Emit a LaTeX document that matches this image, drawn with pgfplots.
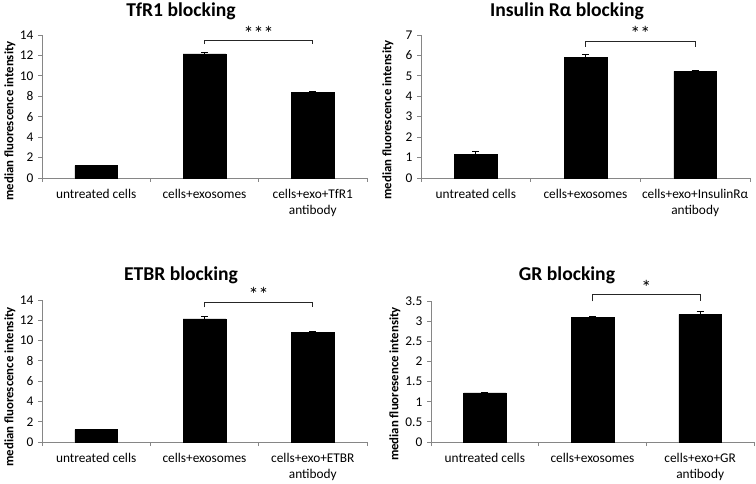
\documentclass[border=0pt]{standalone}
\usepackage{pgfplots}
\pgfplotsset{compat=1.18}
\usepackage{fontspec}
\setmainfont{Carlito}
\definecolor{axgray}{RGB}{134,134,134}
\pgfplotsset{
 panel/.style={
   scale only axis,
   axis lines*=left,
   axis line style={axgray, line width=0.6pt},
   xmin=-0.5, xmax=2.5, ymin=0,
   xtick={0,1,2},
   x tick style={axgray, line width=0.6pt},
   major x tick style={draw=none},
   minor xtick={-0.5,0.5,1.5,2.5},
   y tick style={axgray, line width=0.6pt},
   tick align=outside,
   major tick length=3pt, minor tick length=3pt,
   tick label style={font=\fontsize{10}{12}\selectfont, black},
   /pgf/number format/assume math mode=true,
   xticklabel style={align=center, yshift=-2pt},
   clip=false,
   anchor=south west,
 },
 barstyle/.style={ybar, bar width=32pt, fill=black, draw=black,
   error bars/.cd, y dir=plus, y explicit,
   error bar style={black, line width=0.6pt},
   error mark options={rotate=90, mark size=2.6pt, black, line width=0.6pt}},
 brk/.style={black!85, line width=0.6pt, no marks, forget plot},
}
\newcommand{\stars}[1]{\fontsize{15}{15}\selectfont #1}
\begin{document}
\begin{tikzpicture}
\useasboundingbox (0,0) rectangle (567pt,-363pt);
% Panel 1
\begin{axis}[panel, at={(31.5pt,-133.5pt)}, width=243.75pt, height=107.25pt,
  ymax=14, ytick={0,2,...,14},
  xticklabels={untreated cells, cells+exosomes, {cells+exo+TfR1\\antibody}}]
\addplot[barstyle] coordinates {(0,1.2) +- (0,0.07) (1,12.15) +- (0,0.15) (2,8.4) +- (0,0.08)};
\addplot[brk] coordinates {(1,13.1) (1,13.5) (2,13.5) (2,13.1)};
\node[yshift=-3pt] at (axis cs:1.5,14.55) {\stars{***}};
\end{axis}
% Panel 2
\begin{axis}[panel, at={(315.75pt,-133.5pt)}, width=246.75pt, height=107.25pt,
  ymax=7, ytick={0,1,...,7},
  xticklabels={untreated cells, cells+exosomes, {cells+exo+InsulinRα\\antibody}}]
\addplot[barstyle] coordinates {(0,1.17) +- (0,0.12) (1,5.91) +- (0,0.15) (2,5.22) +- (0,0.06)};
\addplot[brk] coordinates {(1,6.43) (1,6.68) (2,6.68) (2,6.43)};
\node[yshift=-3pt] at (axis cs:1.5,7.28) {\stars{**}};
\end{axis}
% Panel 3
\begin{axis}[panel, at={(31.5pt,-331.5pt)}, width=243.75pt, height=106.5pt,
  ymax=14, ytick={0,2,...,14},
  xticklabels={untreated cells, cells+exosomes, {cells+exo+ETBR\\antibody}}]
\addplot[barstyle] coordinates {(0,1.22) +- (0,0.06) (1,12.13) +- (0,0.22) (2,10.82) +- (0,0.05)};
\addplot[brk] coordinates {(1,13.28) (1,13.77) (2,13.77) (2,13.28)};
\node[yshift=-3pt] at (axis cs:1.5,14.9) {\stars{**}};
\end{axis}
% Panel 4
\begin{axis}[panel, at={(323.25pt,-331.5pt)}, width=242.25pt, height=105.75pt,
  ymax=3.5, ytick={0,0.5,...,3.5},
  xticklabels={untreated cells, cells+exosomes, {cells+exo+GR\\antibody}}]
\addplot[barstyle] coordinates {(0,1.22) +- (0,0.02) (1,3.09) +- (0,0.03) (2,3.17) +- (0,0.06)};
\addplot[brk] coordinates {(1,3.49) (1,3.66) (2,3.66) (2,3.49)};
\node[yshift=-3pt] at (axis cs:1.5,3.93) {\stars{*}};
\end{axis}
% Titles
\node[font=\fontsize{14.7}{16}\selectfont\bfseries] at (135.75pt,-8.25pt) {TfR1 blocking};
\node[font=\fontsize{14.7}{16}\selectfont\bfseries] at (425.25pt,-8.25pt) {Insulin Rα blocking};
\node[font=\fontsize{14.7}{16}\selectfont\bfseries] at (135.75pt,-206.25pt) {ETBR blocking};
\node[font=\fontsize{14.7}{16}\selectfont\bfseries] at (425.25pt,-206.25pt) {GR blocking};
% Y labels
\node[rotate=90, font=\fontsize{9.6}{11}\selectfont\bfseries] at (7.5pt,-90.75pt) {median fluorescence intensity};
\node[rotate=90, font=\fontsize{9.6}{11}\selectfont\bfseries] at (291pt,-90pt) {median fluorescence intensity};
\node[rotate=90, font=\fontsize{9.6}{11}\selectfont\bfseries] at (7.5pt,-290.25pt) {median fluorescence intensity};
\node[rotate=90, font=\fontsize{9.6}{11}\selectfont\bfseries] at (296.25pt,-288pt) {median fluoresence intensity};
\end{tikzpicture}
\end{document}
